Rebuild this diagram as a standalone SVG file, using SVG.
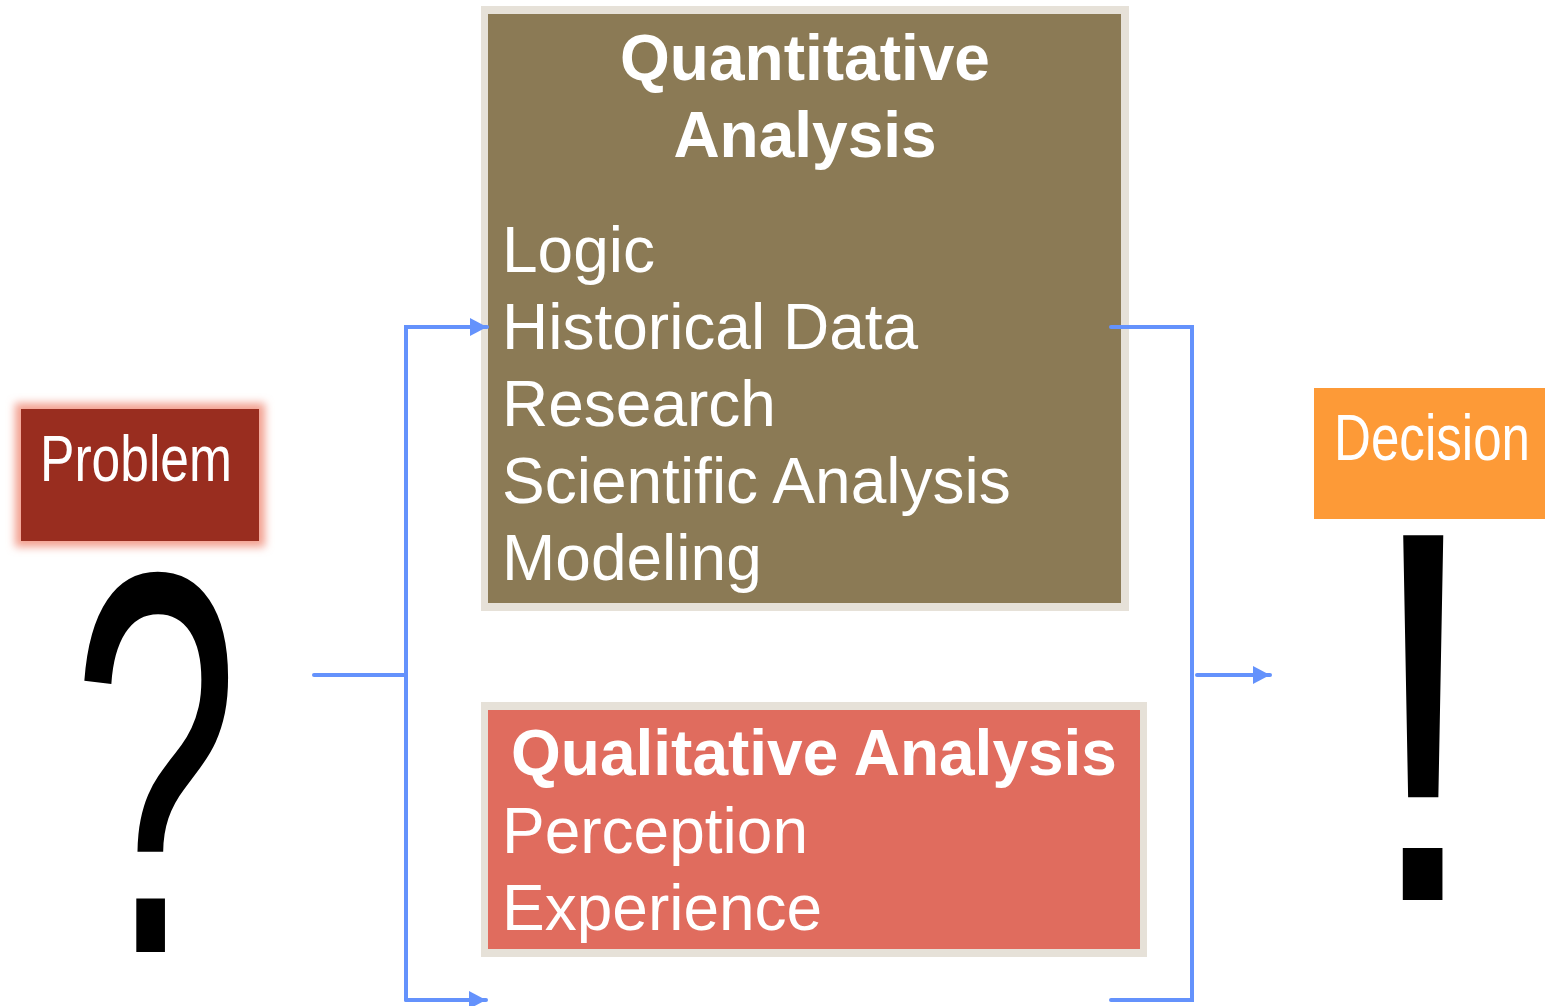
<svg xmlns="http://www.w3.org/2000/svg" width="1545" height="1006" viewBox="0 0 1545 1006">
<style>
.t{font-family:"Liberation Sans",Arial,sans-serif;fill:#fff;font-size:64px}
.b{font-weight:bold}
.c{stroke:#6492fc;stroke-width:4;fill:none;stroke-linecap:round}
.big{font-family:"Liberation Sans",Arial,sans-serif;fill:#000;font-size:310px}
</style>
<defs>
<marker id="ah" markerWidth="20" markerHeight="20" refX="17" refY="9" orient="auto" markerUnits="userSpaceOnUse"><path d="M0,0 L17,9 L0,18 Z" fill="#6492fc"/></marker>
<filter id="glow" x="-20%" y="-30%" width="140%" height="160%"><feGaussianBlur stdDeviation="4"/></filter>
</defs>
<g id="problem">
<rect x="15" y="403" width="250" height="144" fill="#f3a090" filter="url(#glow)"/>
<rect x="21" y="409" width="238" height="132" fill="#992d1f"/>
<text class="t" x="40" y="481" font-size="63" textLength="192" lengthAdjust="spacingAndGlyphs">Problem</text>
</g>
<g id="question">
<text class="big" transform="translate(72,952) scale(0.97,1.757)">?</text>
</g>
<g id="quantitative">
<rect x="481" y="6" width="648" height="605" fill="#e6e1d8"/>
<rect x="488" y="14" width="633" height="589" fill="#8b7a55"/>
<text class="t b" x="805" y="80" text-anchor="middle">Quantitative</text>
<text class="t b" x="805" y="157" text-anchor="middle">Analysis</text>
<text class="t" x="502" y="272">Logic</text>
<text class="t" x="502" y="349">Historical Data</text>
<text class="t" x="502" y="426">Research</text>
<text class="t" x="502" y="503">Scientific Analysis</text>
<text class="t" x="502" y="580">Modeling</text>
</g>
<g id="qualitative">
<rect x="481" y="702" width="666" height="255" fill="#e6e1d8"/>
<rect x="488" y="710" width="652" height="239" fill="#e06c5e"/>
<text class="t b" x="814" y="775" text-anchor="middle">Qualitative Analysis</text>
<text class="t" x="502" y="853">Perception</text>
<text class="t" x="502" y="930">Experience</text>
</g>
<g id="decision">
<rect x="1314" y="388" width="231" height="131" fill="#fd9a37"/>
<text class="t" x="1334" y="460" font-size="63" textLength="196" lengthAdjust="spacingAndGlyphs">Decision</text>
</g>
<g id="exclaim">
<text class="big" transform="translate(1365,900) scale(1.35,1.71)">!</text>
</g>
<g id="connectors">
<path class="c" d="M314,675 H406"/>
<path class="c" d="M406,1000 V327 H487" marker-end="url(#ah)"/>
<path class="c" d="M406,1000 H486" marker-end="url(#ah)"/>
<path class="c" d="M1111,327 H1192 V1000 H1111"/>
<path class="c" d="M1197,675 H1270" marker-end="url(#ah)"/>
</g>
</svg>
